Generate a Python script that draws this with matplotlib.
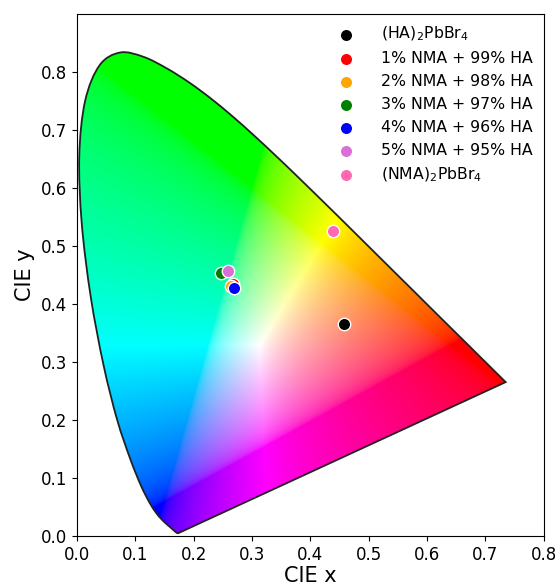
import numpy as np
import matplotlib
matplotlib.use('Agg')
from matplotlib import pyplot as plt
from matplotlib.path import Path
from matplotlib.patches import PathPatch

# CIE 1931 2 deg spectral locus (x, y), 380-700 nm in 5 nm steps
locus_x = [0.1741, 0.1740, 0.1738, 0.1736, 0.1733, 0.1730, 0.1726, 0.1721,
           0.1714, 0.1703, 0.1689, 0.1669, 0.1644, 0.1611, 0.1566, 0.1510,
           0.1440, 0.1355, 0.1241, 0.1096, 0.0913, 0.0687, 0.0454, 0.0235,
           0.0082, 0.0039, 0.0139, 0.0389, 0.0743, 0.1142, 0.1547, 0.1929,
           0.2296, 0.2658, 0.3016, 0.3373, 0.3731, 0.4087, 0.4441, 0.4788,
           0.5125, 0.5448, 0.5752, 0.6029, 0.6270, 0.6482, 0.6658, 0.6801,
           0.6915, 0.7006, 0.7079, 0.7140, 0.7190, 0.7230, 0.7260, 0.7283,
           0.7300, 0.7311, 0.7320, 0.7327, 0.7334, 0.7340, 0.7344, 0.7346,
           0.7347]
locus_y = [0.0050, 0.0050, 0.0049, 0.0049, 0.0048, 0.0048, 0.0048, 0.0048,
           0.0051, 0.0058, 0.0069, 0.0086, 0.0109, 0.0138, 0.0177, 0.0227,
           0.0297, 0.0399, 0.0578, 0.0868, 0.1327, 0.2007, 0.2950, 0.4127,
           0.5384, 0.6548, 0.7502, 0.8120, 0.8338, 0.8262, 0.8059, 0.7816,
           0.7543, 0.7243, 0.6923, 0.6589, 0.6245, 0.5896, 0.5547, 0.5202,
           0.4866, 0.4544, 0.4242, 0.3965, 0.3725, 0.3514, 0.3340, 0.3197,
           0.3083, 0.2993, 0.2920, 0.2859, 0.2809, 0.2770, 0.2740, 0.2717,
           0.2700, 0.2689, 0.2680, 0.2673, 0.2666, 0.2660, 0.2656, 0.2654,
           0.2653]

labels = [r'(HA)$_2$PbBr$_4$', '1% NMA + 99% HA', '2% NMA + 98% HA',
          '3% NMA + 97% HA', '4% NMA + 96% HA', '5% NMA + 95% HA',
          r'(NMA)$_2$PbBr$_4$']
cie_x = [0.458, 0.268, 0.264, 0.246, 0.269, 0.259, 0.438]
cie_y = [0.366, 0.434, 0.431, 0.453, 0.428, 0.457, 0.526]
colors = ['black', 'red', 'orange', 'green', 'blue', 'orchid', 'hotpink']


def diagram_colours(n=700):
    xs = np.linspace(0, 0.8, n)
    ys = np.linspace(0, 0.9, n)
    xx, yy = np.meshgrid(xs, ys)
    yy = np.clip(yy, 1e-4, None)
    X = xx / yy
    Y = np.ones_like(xx)
    Z = (1 - xx - yy) / yy
    M = np.array([[3.2406, -1.5372, -0.4986],
                  [-0.9689, 1.8758, 0.0415],
                  [0.0557, -0.2040, 1.0570]])
    rgb = np.stack([X, Y, Z], axis=-1) @ M.T
    enc = np.where(rgb <= 0.0031308, 12.92 * rgb,
                   1.055 * np.abs(rgb) ** (1 / 2.4) * np.sign(rgb) - 0.055)
    mx = np.max(enc, axis=-1, keepdims=True)
    enc = np.clip(enc / mx, 0, 1)
    return enc


def smooth_locus(xs, ys):
    # catmull-rom through the locus points, straight purple line to close
    p = np.column_stack([xs, ys])
    n = len(p)
    verts = [p[0]]
    codes = [Path.MOVETO]
    for i in range(n - 1):
        p0 = p[max(i - 1, 0)]
        p1 = p[i]
        p2 = p[i + 1]
        p3 = p[min(i + 2, n - 1)]
        verts += [p1 + (p2 - p0) / 6, p2 - (p3 - p1) / 6, p2]
        codes += [Path.CURVE4] * 3
    verts += [p[0], p[0]]
    codes += [Path.LINETO, Path.CLOSEPOLY]
    return Path(verts, codes)


fig = plt.figure(figsize=(5.6, 5.87), dpi=100)
ax = fig.add_axes([0.1375, 0.087, 0.8335, 0.889])

img = ax.imshow(diagram_colours(), origin='lower', extent=[0, 0.8, 0, 0.9],
                interpolation='bilinear', zorder=1)
patch = PathPatch(smooth_locus(locus_x, locus_y), facecolor='none',
                  edgecolor='#222222', lw=1.3, zorder=2)
ax.add_patch(patch)
img.set_clip_path(patch)

for xv, yv, c, lab in zip(cie_x, cie_y, colors, labels):
    ax.scatter(xv, yv, s=80, color=c, edgecolors='white', linewidths=1.0,
               label=lab, zorder=3)

ax.set_xlim(0, 0.8)
ax.set_ylim(0, 0.9)
ax.set_aspect('auto')
ax.set_xticks(np.arange(0, 0.81, 0.1))
ax.set_yticks(np.arange(0, 0.81, 0.1))
ax.tick_params(labelsize=12)
ax.set_xlabel('CIE x', fontsize=15, labelpad=2)
ax.set_ylabel('CIE y', fontsize=15)
ax.legend(loc='upper right', frameon=False, fontsize=11.3, handletextpad=1.2,
          labelspacing=0.5, borderaxespad=0.3)

plt.savefig('out.png', dpi=100)
plt.close()
